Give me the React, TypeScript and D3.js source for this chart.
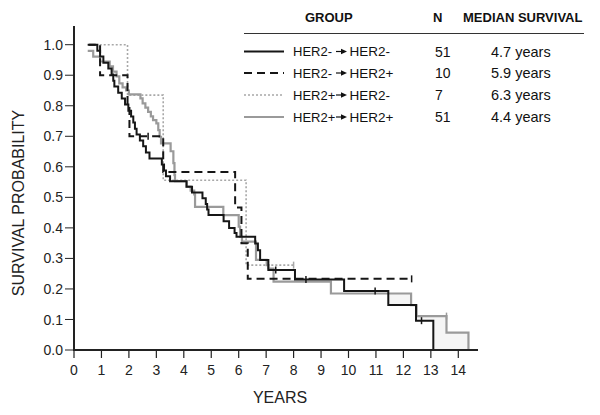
import React from "react";
import * as d3 from "d3";

// ---- data ----
const xTicks = [0, 1, 2, 3, 4, 5, 6, 7, 8, 9, 10, 11, 12, 13, 14];
const yTicks = [0, 0.1, 0.2, 0.3, 0.4, 0.5, 0.6, 0.7, 0.8, 0.9, 1.0];

const groupFrom = ["HER2-", "HER2-", "HER2+", "HER2+"];
const groupTo = ["HER2-", "HER2+", "HER2-", "HER2+"];
const groupN = ["51", "10", "7", "51"];
const groupMedian = ["4.7 years", "5.9 years", "6.3 years", "4.4 years"];

// HER2- -> HER2-
const negNegTimes = [0.55, 0.85, 0.95, 1.07, 1.25, 1.37, 1.43, 1.47, 1.61, 1.74, 1.86, 1.98, 2.08, 2.16, 2.22, 2.28, 2.4, 2.52, 2.62, 2.75, 3.2, 3.28, 3.35, 3.5, 4.1, 4.3, 4.68, 4.8, 4.85, 4.9, 5.45, 5.65, 5.85, 5.92, 6.6, 6.7, 6.78, 7.08, 8.05, 9.84, 11.45, 12.46, 13.09];
const negNegSurv = [1.0, 0.98, 0.961, 0.941, 0.922, 0.902, 0.882, 0.863, 0.843, 0.824, 0.804, 0.784, 0.765, 0.745, 0.725, 0.706, 0.686, 0.667, 0.647, 0.627, 0.608, 0.588, 0.569, 0.553, 0.535, 0.516, 0.497, 0.478, 0.46, 0.442, 0.422, 0.4, 0.383, 0.371, 0.349, 0.327, 0.295, 0.262, 0.231, 0.193, 0.147, 0.096, 0];
const negNegCensor = [7.35, 8.45, 10.97, 12.66];

// HER2- -> HER2+
const negPosTimes = [0.5, 0.95, 1.95, 2.02, 3.25, 5.87, 6.1, 6.33, 12.3];
const negPosSurv = [1.0, 0.9, 0.8, 0.7, 0.583, 0.467, 0.35, 0.233, 0.233];
const negPosCensor = [2.7, 12.3];

// HER2+ -> HER2-
const posNegTimes = [0.5, 1.95, 3.25, 6.27, 8.0];
const posNegSurv = [1.0, 0.835, 0.556, 0.278, 0.278];
const posNegCensor = [8.0];

// HER2+ -> HER2+
const posPosTimes = [0.5, 0.7, 0.95, 1.3, 1.42, 1.55, 1.65, 1.77, 1.9, 2.0, 2.42, 2.5, 2.6, 2.7, 2.8, 2.88, 3.0, 3.07, 3.12, 3.17, 3.52, 3.62, 3.66, 3.68, 4.1, 4.25, 4.38, 4.41, 5.44, 6.0, 6.05, 6.12, 6.63, 7.02, 7.08, 7.27, 9.36, 12.28, 12.48, 13.57, 14.37];
const posPosSurv = [0.98, 0.961, 0.945, 0.929, 0.912, 0.896, 0.873, 0.86, 0.85, 0.837, 0.824, 0.808, 0.794, 0.78, 0.765, 0.753, 0.742, 0.72, 0.698, 0.677, 0.651, 0.612, 0.573, 0.553, 0.535, 0.522, 0.51, 0.469, 0.442, 0.404, 0.371, 0.355, 0.295, 0.278, 0.267, 0.224, 0.185, 0.147, 0.111, 0.057, 0];
const posPosCensor = [13.57];

const FONT = "'Liberation Sans', Arial, Helvetica, sans-serif";

type Pt = [number, number];

function zipPts(t: number[], s: number[]): Pt[] {
  return t.map((v, i) => [v, s[i]] as Pt);
}

function survAt(t: number[], s: number[], time: number): number {
  let v = s[0];
  for (let i = 0; i < t.length; i++) {
    if (t[i] <= time) v = s[i];
  }
  return v;
}

export default function App() {
  const x = d3.scaleLinear().domain([0, 14]).range([74, 458.3]);
  const y = d3.scaleLinear().domain([0, 1]).range([350, 44.7]);

  const line = d3
    .line<Pt>()
    .x((d) => x(d[0]))
    .y((d) => y(d[1]))
    .curve(d3.curveStepAfter);

  const curves = [
    { key: "pn", pts: zipPts(posNegTimes, posNegSurv), censor: posNegCensor, t: posNegTimes, s: posNegSurv, stroke: "#a8a8a8", width: 1.6, dash: "2,2" },
    { key: "pp", pts: zipPts(posPosTimes, posPosSurv), censor: posPosCensor, t: posPosTimes, s: posPosSurv, stroke: "#9a9a9a", width: 2.2, dash: undefined },
    { key: "np", pts: zipPts(negPosTimes, negPosSurv), censor: negPosCensor, t: negPosTimes, s: negPosSurv, stroke: "#161616", width: 2, dash: "8,5" },
    { key: "nn", pts: zipPts(negNegTimes, negNegSurv), censor: negNegCensor, t: negNegTimes, s: negNegSurv, stroke: "#161616", width: 2, dash: undefined },
  ];

  // faint fill between the HER2+->HER2+ curve and the HER2-->HER2- curve at the tail
  const fillTimes = Array.from(
    new Set([11.45, ...negNegTimes, ...posPosTimes].filter((t) => t >= 11.45 && t <= 14.37))
  ).sort((a, b) => a - b);
  const fillPts = fillTimes.map((t) => {
    const g = survAt(posPosTimes, posPosSurv, t);
    const b = survAt(negNegTimes, negNegSurv, t);
    return { t, top: g, bottom: Math.min(g, b) };
  });
  const area = d3
    .area<{ t: number; top: number; bottom: number }>()
    .x((d) => x(d.t))
    .y0((d) => y(d.bottom))
    .y1((d) => y(d.top))
    .curve(d3.curveStepAfter);

  const legendStyles = [
    { stroke: "#161616", width: 2, dash: undefined },
    { stroke: "#161616", width: 2, dash: "8,5" },
    { stroke: "#a8a8a8", width: 1.6, dash: "2,2" },
    { stroke: "#9a9a9a", width: 2.2, dash: undefined },
  ];
  const rowY = [51.5, 73, 95, 117];

  return (
    <svg
      width={600}
      height={415}
      style={{ position: "absolute", left: 0, top: 0, background: "#fff" }}
      fontFamily={FONT}
    >
      <rect x={0} y={0} width={600} height={415} fill="#fff" />

      {/* fill */}
      <path d={area(fillPts) || ""} fill="#f5f5f5" stroke="none" />

      {/* curves */}
      {curves.map((c) => (
        <g key={c.key}>
          <path
            d={line(c.pts) || ""}
            fill="none"
            stroke={c.stroke}
            strokeWidth={c.width}
            strokeDasharray={c.dash}
          />
          {c.censor.map((ct, i) => {
            const sv = survAt(c.t, c.s, ct - 1e-6);
            return (
              <line
                key={i}
                x1={x(ct)}
                x2={x(ct)}
                y1={y(sv) - 3.5}
                y2={y(sv) + 3.5}
                stroke={c.stroke}
                strokeWidth={1.5}
              />
            );
          })}
        </g>
      ))}

      {/* axes */}
      <line x1={74} x2={74} y1={26} y2={351} stroke="#222" strokeWidth={2} />
      <line x1={73} x2={478} y1={350} y2={350} stroke="#222" strokeWidth={2} />
      {yTicks.map((t) => (
        <g key={"y" + t}>
          <line x1={65} x2={74} y1={y(t)} y2={y(t)} stroke="#222" strokeWidth={1} />
          <text x={63} y={y(t)} dy="0.36em" textAnchor="end" fontSize={14} fill="#222">
            {t.toFixed(1)}
          </text>
        </g>
      ))}
      {xTicks.map((t) => (
        <g key={"x" + t}>
          <line x1={x(t)} x2={x(t)} y1={350} y2={358} stroke="#222" strokeWidth={1.2} />
          <text x={x(t)} y={375} textAnchor="middle" fontSize={14} fill="#222">
            {t}
          </text>
        </g>
      ))}
      <text
        transform="translate(24,203) rotate(-90)"
        textAnchor="middle"
        fontSize={16}
        fill="#222"
      >
        SURVIVAL PROBABILITY
      </text>
      <text x={280} y={403} textAnchor="middle" fontSize={16} fill="#222">
        YEARS
      </text>

      {/* legend */}
      <g fill="#111">
        <text x={305} y={21.5} fontSize={13} fontWeight="bold">GROUP</text>
        <text x={433} y={21.5} fontSize={13} fontWeight="bold">N</text>
        <text x={463} y={21.5} fontSize={13} fontWeight="bold">MEDIAN SURVIVAL</text>
        <line x1={244} x2={584} y1={33.5} y2={33.5} stroke="#333" strokeWidth={1} />
        {groupFrom.map((g, i) => {
          const ry = rowY[i];
          const ls = legendStyles[i];
          return (
            <g key={"lg" + i}>
              <line
                x1={244}
                x2={284}
                y1={ry}
                y2={ry}
                stroke={ls.stroke}
                strokeWidth={ls.width}
                strokeDasharray={ls.dash}
              />
              <text x={293} y={ry} dy="0.36em" fontSize={13}>{g}</text>
              <line x1={336} x2={342} y1={ry} y2={ry} stroke="#111" strokeWidth={1.2} />
              <path d={`M341,${ry - 2.8} L347,${ry} L341,${ry + 2.8} Z`} fill="#111" />
              <text x={349.5} y={ry} dy="0.36em" fontSize={13.5}>{groupTo[i]}</text>
              <text x={435} y={ry} dy="0.36em" fontSize={14}>{groupN[i]}</text>
              <text x={491} y={ry} dy="0.36em" fontSize={14.5}>{groupMedian[i]}</text>
            </g>
          );
        })}
      </g>
    </svg>
  );
}
